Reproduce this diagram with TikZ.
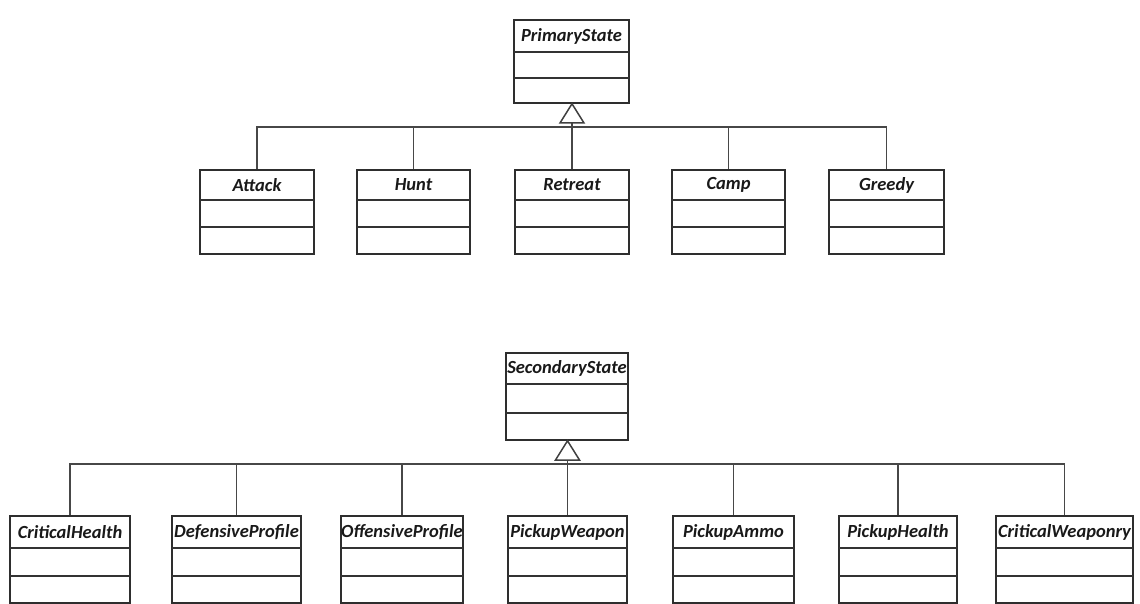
\documentclass[tikz,border=0pt]{standalone}
\usepackage{fontspec}
\setmainfont{Carlito}
\usetikzlibrary{fit,calc}

% class box: outline, two compartment rules and an italic title
\newcommand{\umlclass}[8]{%
  % #1 name, #2 left, #3 top, #4 right, #5 bottom, #6 first rule, #7 second rule, #8 title
  \node[classbox, fit={(#2,#3) (#4,#5)}] (#1) {};
  \draw[classline] (#2,#6) -- (#4,#6);
  \draw[classline] (#2,#7) -- (#4,#7);
  \node[classtitle] (#1-title) at ({(#2+#4)/2},{(#3+#6)/2}) {#8};
}

\tikzset{
  classbox/.style={draw=black!82, line width=1.6pt, inner sep=0pt, fill=white},
  classline/.style={draw=black!80, line width=1.4pt},
  classtitle/.style={font=\fontsize{18.5}{20}\selectfont\bfseries\itshape, text=black!90, inner sep=0pt},
  link/.style={draw=black!72, line width=1.3pt},
  genhead/.style={draw=black!75, line width=1.5pt, fill=white, line join=miter}
}

\begin{document}
\begin{tikzpicture}[x=1pt,y=-1pt]
\useasboundingbox (0,0) rectangle (1140,604);

% ---- primary state hierarchy ----
\umlclass{primary}{514}{20}{629}{103}{52}{78}{PrimaryState}
\umlclass{attack}{200}{170}{314}{254}{200}{227}{Attack}
\umlclass{hunt}{357}{170}{470}{254}{200}{227}{Hunt}
\umlclass{retreat}{515}{170}{629}{254}{200}{227}{Retreat}
\umlclass{camp}{672}{170}{785}{254}{200}{227}{Camp}
\umlclass{greedy}{829}{170}{944}{254}{200}{227}{Greedy}

\coordinate (ptri) at (572,123);
\coordinate (pbar) at (572,127);
\draw[link] (attack.north) -- (attack.north |- pbar) -- (greedy.north |- pbar) -- (greedy.north);
\draw[link] (hunt.north) -- (hunt.north |- pbar);
\draw[link] (camp.north) -- (camp.north |- pbar);
\draw[link] (retreat.north |- ptri) -- (retreat.north);
\draw[genhead] (primary.south -| ptri) -- ($(ptri)+(12,0)$) -- ($(ptri)+(-12,0)$) -- cycle;

% ---- secondary state hierarchy ----
\umlclass{secondary}{506}{353}{628}{440}{384}{413}{SecondaryState}
\umlclass{crithealth}{10}{516}{130}{603}{548}{576}{CriticalHealth}
\umlclass{defprofile}{172}{516}{301}{603}{548}{576}{DefensiveProfile}
\umlclass{offprofile}{341}{516}{463}{603}{548}{576}{OffensiveProfile}
\umlclass{pickweapon}{508}{516}{627}{603}{548}{576}{PickupWeapon}
\umlclass{pickammo}{673}{516}{794}{603}{548}{576}{PickupAmmo}
\umlclass{pickhealth}{839}{516}{957}{603}{548}{576}{PickupHealth}
\umlclass{critweapon}{996}{516}{1133}{603}{548}{576}{CriticalWeaponry}

\coordinate (stri) at (567.5,460);
\coordinate (sbar) at (567.5,464);
\draw[link] (crithealth.north) -- (crithealth.north |- sbar) -- (critweapon.north |- sbar) -- (critweapon.north);
\draw[link] (defprofile.north) -- (defprofile.north |- sbar);
\draw[link] (offprofile.north) -- (offprofile.north |- sbar);
\draw[link] (pickammo.north) -- (pickammo.north |- sbar);
\draw[link] (pickhealth.north) -- (pickhealth.north |- sbar);
\draw[link] (pickweapon.north |- stri) -- (pickweapon.north);
\draw[genhead] (secondary.south -| stri) -- ($(stri)+(12,0)$) -- ($(stri)+(-12,0)$) -- cycle;
\end{tikzpicture}
\end{document}
